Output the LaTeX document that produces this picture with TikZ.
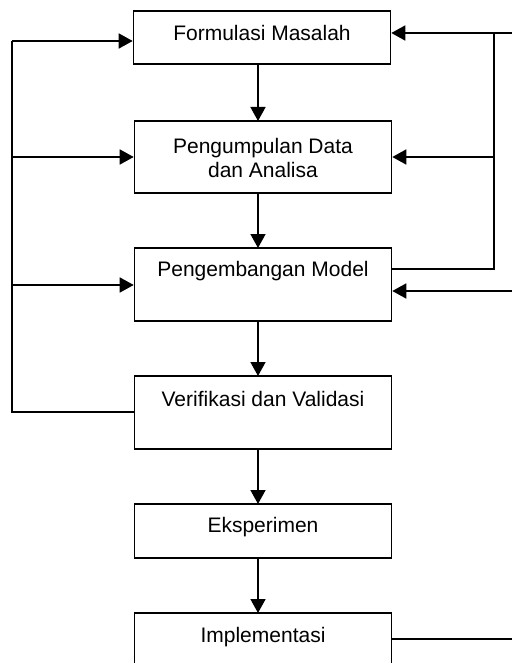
\documentclass[tikz,border=0pt]{standalone}
\usepackage{fontspec}
\setmainfont{Liberation Sans}
\usetikzlibrary{arrows.meta}
\begin{document}
\begin{tikzpicture}[x=1pt,y=-1pt,
  box/.style={draw,line width=1.6pt,rectangle,minimum width=257pt,inner sep=0pt},
  txt/.style={font=\fontsize{21}{24.5}\selectfont,align=center,inner sep=0pt},
  ln/.style={line width=1.6pt},
  arr/.style={line width=1.6pt,-{Triangle[length=14pt,width=15pt]}}]
\clip (0,0) rectangle (512,663);
\fill[white] (0,0) rectangle (512,663);
% boxes
\node[box,minimum height=53pt] (f) at (262,37.5) {};
\node[box,minimum height=72pt] (p) at (263,157) {};
\node[box,minimum height=73pt] (m) at (263,284.5) {};
\node[box,minimum height=73pt] (v) at (263,412.5) {};
\node[box,minimum height=54pt] (e) at (263,531) {};
\node[box,minimum height=80pt] (i) at (263,653) {};
% texts
\node[txt] (tf) at (262,33) {Formulasi Masalah};
\node[txt] (tp) at (263,158) {Pengumpulan Data\\dan Analisa};
\node[txt] (tm) at (263,271) {Pengembangan Model};
\node[txt] (tv) at (263,399) {Verifikasi dan Validasi};
\node[txt] (te) at (263,527) {Eksperimen};
\node[txt] (ti) at (263,637) {Implementasi};
% vertical flow
\draw[arr] (258,64) -- (258,121);
\draw[arr] (258,193) -- (258,248);
\draw[arr] (258,321) -- (258,376);
\draw[arr] (258,449) -- (258,504);
\draw[arr] (258,558) -- (258,613);
% left feedback
\coordinate (lv) at (12,412);
\coordinate (lf) at (12,41);
\coordinate (lp) at (12,157);
\coordinate (lm) at (12,285);
\draw[ln] (v.west |- lv) -- (lv) -- (lf);
\draw[arr] (lf) -- (lf -| f.west);
\draw[arr] (lp) -- (lp -| p.west);
\draw[arr] (lm) -- (lm -| m.west);
% right feedback
\coordinate (rt) at (512,33);
\coordinate (rc) at (494,33);
\coordinate (rp) at (494,157);
\coordinate (rb) at (494,269);
\coordinate (rm) at (512,291);
\coordinate (ri) at (512,639);
\draw[arr] (rt) -- (rt -| f.east);
\draw[ln] (rc) -- (rb) -- (rb -| m.east);
\draw[arr] (rp) -- (rp -| p.east);
\draw[arr] (rm) -- (rm -| m.east);
\draw[ln] (ri -| i.east) -- (ri);
\end{tikzpicture}
\end{document}
